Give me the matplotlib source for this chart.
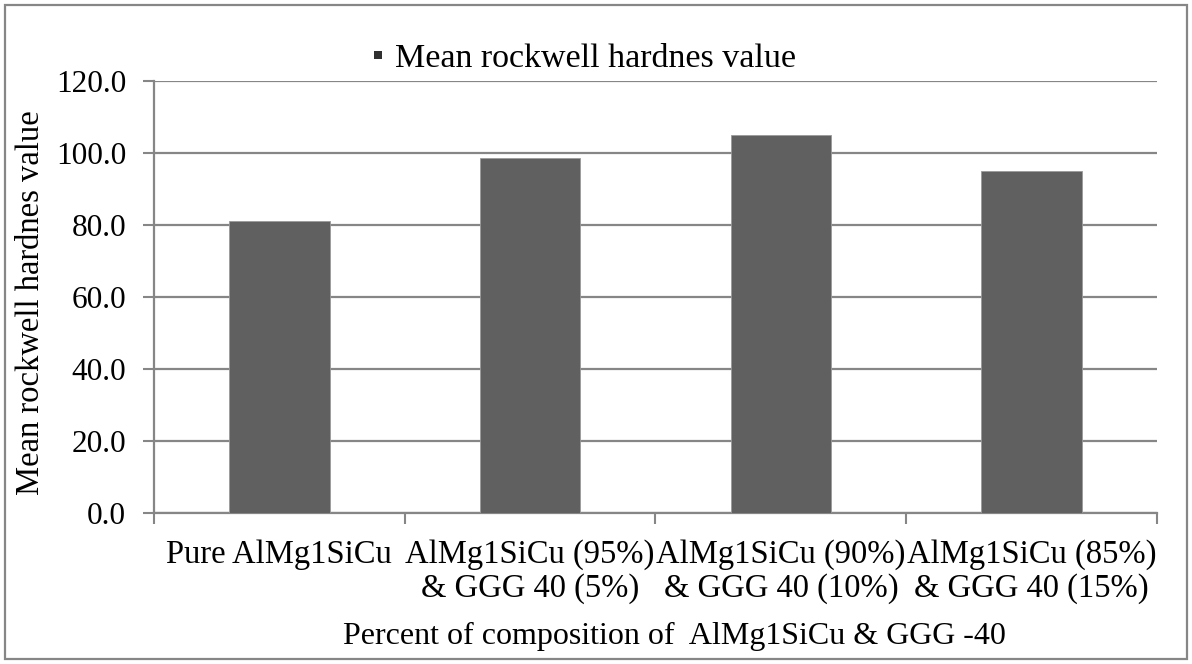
import matplotlib.pyplot as plt
import numpy as np
from matplotlib.patches import Rectangle
from matplotlib.lines import Line2D

plt.rcParams['font.family'] = ['Liberation Serif', 'DejaVu Serif']

# data
categories = [
    "Pure AlMg1SiCu",
    "AlMg1SiCu (95%)\n& GGG 40 (5%)",
    "AlMg1SiCu (90%)\n& GGG 40 (10%)",
    "AlMg1SiCu (85%)\n& GGG 40 (15%)",
]
hardness = [81.0, 98.5, 105.0, 95.0]
series_name = "Mean rockwell hardnes value"
y_ticks = [0, 20, 40, 60, 80, 100, 120]

grid_color = "#868686"
bar_color = "#606060"

fig = plt.figure(figsize=(11.92, 6.64), dpi=100)
ax = fig.add_axes([0.1292, 0.2274, 0.8414, 0.6506])

x = np.arange(len(categories))
ax.bar(x, hardness, width=0.4, color=bar_color, edgecolor="#9a9a9a",
       linewidth=0.6, zorder=3)

ax.set_xlim(-0.5, len(categories) - 0.5)
ax.set_ylim(0, 120)
ax.set_yticks(y_ticks)
ax.set_yticklabels([f"{v:.1f}" for v in y_ticks])
ax.yaxis.grid(True, color=grid_color, linewidth=1.6, zorder=0)
ax.set_axisbelow(True)

# category labels centred under bars, ticks on the boundaries
ax.set_xticks(x)
ax.set_xticklabels(categories, linespacing=1.12)
ax.tick_params(axis="x", which="major", length=0, pad=19, labelsize=23.5)
ax.set_xticks(np.arange(-0.5, len(categories)), minor=True)
ax.tick_params(axis="x", which="minor", length=8, width=1.5, color=grid_color, direction="out")
ax.tick_params(axis="y", length=8, width=1.5, color=grid_color, direction="out",
               labelsize=22.5, pad=12)

for side in ["top", "right"]:
    ax.spines[side].set_visible(False)
for side in ["left", "bottom"]:
    ax.spines[side].set_color(grid_color)
    ax.spines[side].set_linewidth(1.6)

ax.set_ylabel("Mean rockwell hardnes value", fontsize=23.5)
ax.yaxis.label.set_va("center")
ax.yaxis.set_label_coords(-0.1226, 0.486)

ax.set_xlabel("Percent of composition of  AlMg1SiCu & GGG -40", fontsize=23)
ax.xaxis.label.set_va("center")
ax.xaxis.set_label_coords(0.519, -0.285)

# small square key like the spreadsheet legend
key = Line2D([], [], marker="s", linestyle="none", markersize=5.5,
             color="#303030", markeredgewidth=0)
ax.legend(handles=[key], labels=[series_name], loc="center",
          bbox_to_anchor=(0.4287, 1.053), frameon=False, fontsize=24.5,
          handlelength=0.3, handletextpad=0.35, borderaxespad=0, borderpad=0)

# outer chart border
fig.patches.append(Rectangle((0.004, 0.008), 0.992, 0.984, transform=fig.transFigure,
                             fill=False, edgecolor=grid_color, linewidth=1.6))

fig.savefig("out.png", dpi=100)
